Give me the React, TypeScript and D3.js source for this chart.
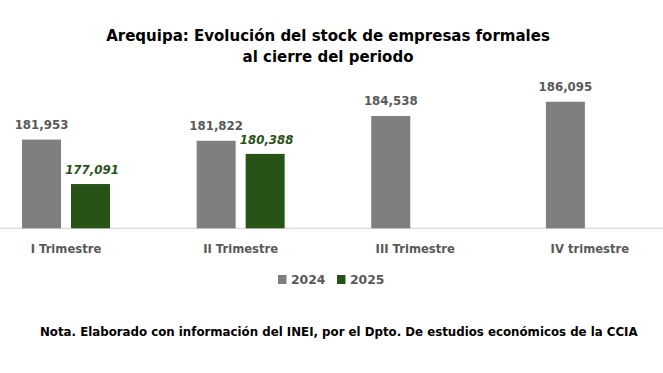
import React from "react";
import * as d3 from "d3";

const categories = ["I Trimestre", "II Trimestre", "III Trimestre", "IV trimestre"];
const series = ["2024", "2025"];
const values2024: (number | null)[] = [181953, 181822, 184538, 186095];
const values2025: (number | null)[] = [177091, 180388, null, null];
const titleLines = ["Arequipa: Evolución del stock de empresas formales", "al cierre del periodo"];
const note = "Nota. Elaborado con información del INEI, por el Dpto. De estudios económicos de la CCIA";

const W = 663;
const H = 373;
const colors: Record<string, string> = { "2024": "#7f7f7f", "2025": "#285317" };
const FONT = "'DejaVu Sans', 'Liberation Sans', Arial, sans-serif";

export default function App() {
  const x = d3.scaleBand<string>().domain(categories).range([-21.3, 677.2]).paddingInner(0).paddingOuter(0);
  const y = d3.scaleLinear().domain([172250, 188000]).range([228.3, 84.3]);
  const groupW = 88;
  const barW = 39;
  const fmt = d3.format(",");

  return (
    <svg width={W} height={H} style={{ position: "absolute", left: 0, top: 0, background: "#fff" }} fontFamily={FONT}>
      <rect width={W} height={H} fill="#fff" />
      <text textAnchor="middle" fontWeight="bold" fontSize={15} fill="#000">
        <tspan x={328} y={41}>{titleLines[0]}</tspan>
        <tspan x={328} y={62}>{titleLines[1]}</tspan>
      </text>
      <line x1={0} x2={W} y1={y(172250)} y2={y(172250)} stroke="#d9d9d9" strokeWidth={1.2} />
      {categories.map((c, i) => {
        const cx = (x(c) as number) + x.bandwidth() / 2;
        const gx = cx - groupW / 2;
        const v1 = values2024[i];
        const v2 = values2025[i];
        return (
          <g key={c}>
            {v1 != null && (
              <g>
                <rect x={gx} y={y(v1)} width={barW} height={y(172250) - y(v1)} fill={colors["2024"]} />
                <text x={gx + barW / 2} y={y(v1) - 10.5} textAnchor="middle" fontWeight="bold" fontSize={11.8} fill="#595959">{fmt(v1)}</text>
              </g>
            )}
            {v2 != null && (
              <g>
                <rect x={gx + groupW - barW} y={y(v2)} width={barW} height={y(172250) - y(v2)} fill={colors["2025"]} />
                <text x={gx + groupW - barW / 2 + 1.5} y={y(v2) - 10} textAnchor="middle" fontWeight="bold" fontStyle="italic" fontSize={11.8} fill="#285317">{fmt(v2)}</text>
              </g>
            )}
            <text x={cx} y={253} textAnchor="middle" fontWeight="bold" fontSize={11.6} fill="#595959">{c}</text>
          </g>
        );
      })}
      {series.map((s, i) => {
        const lx = 278 + i * 59;
        return (
          <g key={s}>
            <rect x={lx} y={275} width={8.5} height={9} fill={colors[s]} />
            <text x={lx + 13} y={284} fontWeight="bold" fontSize={12.4} fill="#595959">{s}</text>
          </g>
        );
      })}
      <text x={40} y={335.5} fontWeight="bold" fontSize={11.8} fill="#000">{note}</text>
    </svg>
  );
}
